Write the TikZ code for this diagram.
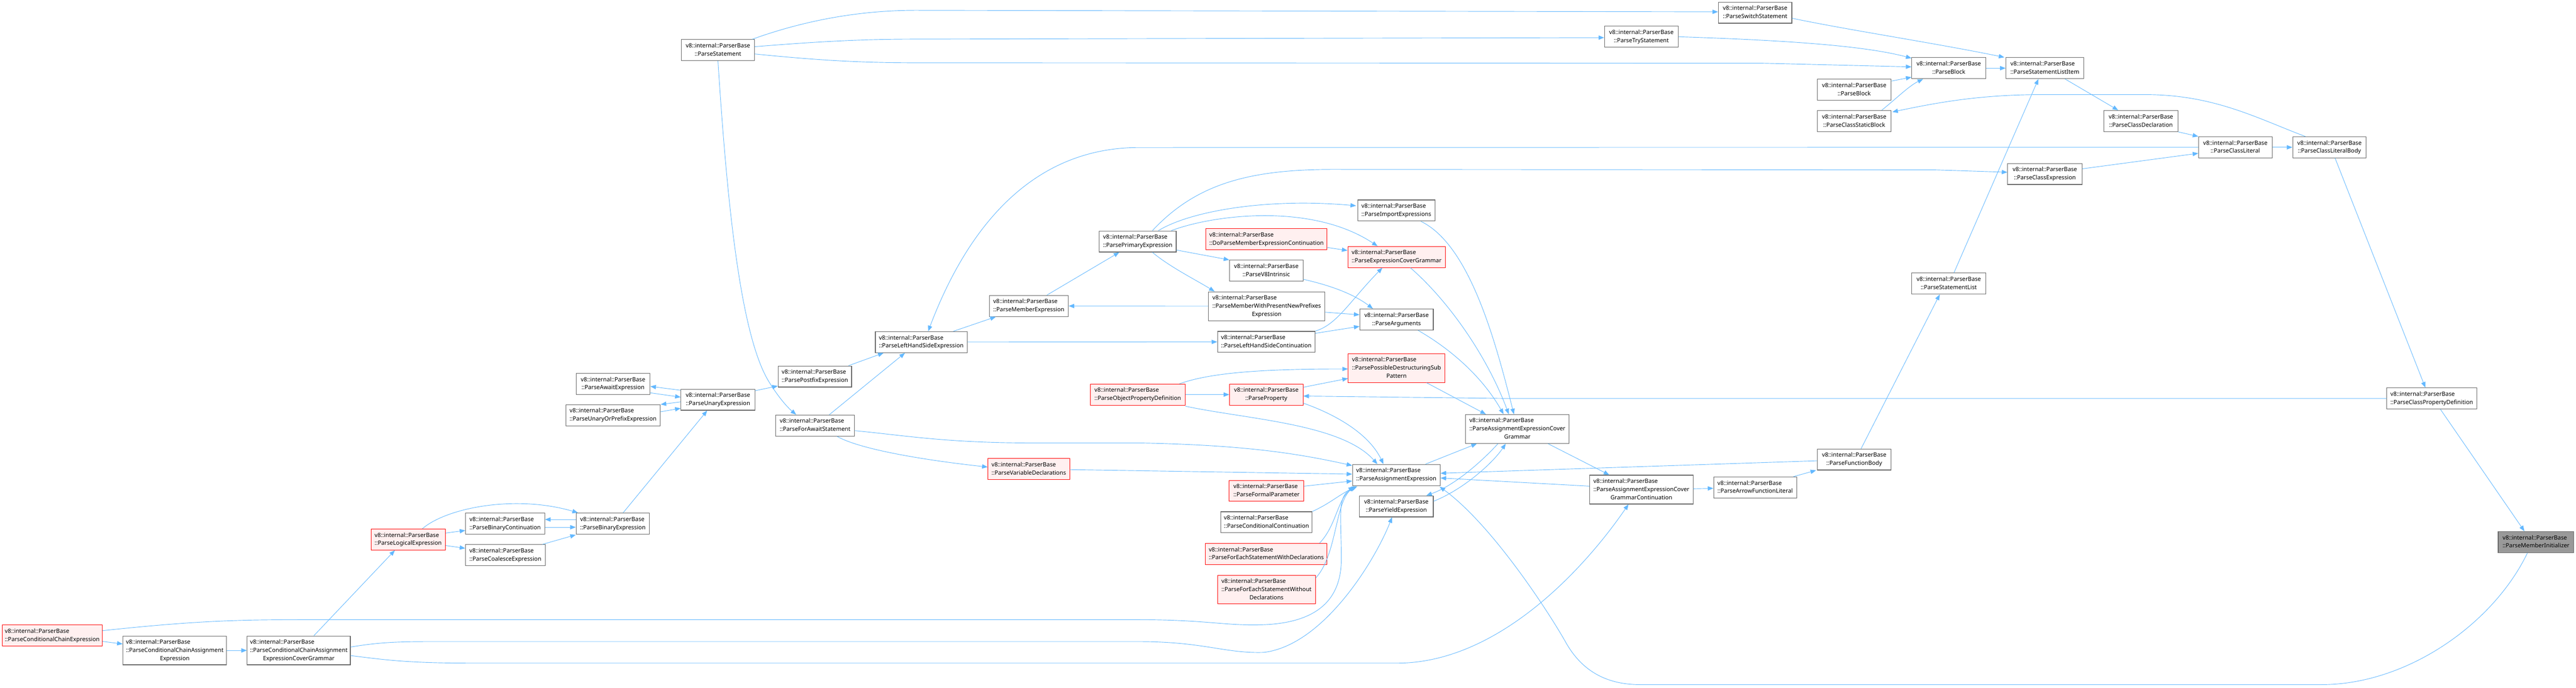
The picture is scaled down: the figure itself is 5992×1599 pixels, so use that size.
\documentclass[tikz,border=0pt]{standalone}
\usepackage{fontspec}
\setmainfont{Noto Sans}
\usepackage{tikz}
\usetikzlibrary{arrows.meta,calc}
\definecolor{callblue}{HTML}{63B8FF}
\definecolor{boxgray}{HTML}{666666}
\definecolor{redfill}{HTML}{FFF0F0}
\definecolor{rootfill}{HTML}{999999}
\newcommand{\fnfont}{\fontsize{13.5}{19}\selectfont}
\newcommand{\fnii}[1]{\begin{tabular}{@{}c@{}}\multicolumn{1}{@{}l@{}}{v8::internal::ParserBase}\\#1\end{tabular}}
\newcommand{\fniii}[2]{\begin{tabular}{@{}c@{}}\multicolumn{1}{@{}l@{}}{v8::internal::ParserBase}\\\multicolumn{1}{@{}l@{}}{#1}\\#2\end{tabular}}
\begin{document}
\begin{tikzpicture}[x=1pt,y=-1pt,
fn/.style={draw=boxgray,line width=1.4pt,fill=white,inner xsep=3pt,inner ysep=0pt,minimum height=49pt,font=\fnfont},
fnred/.style={fn,draw=red,line width=1.2pt,fill=redfill},
fnroot/.style={fn,fill=rootfill},
tall/.style={minimum height=67pt},
call/.style={draw=callblue,line width=1.1pt,-{Triangle[length=13pt,width=10pt]}}]
\useasboundingbox(0,0)rectangle(5992,1599);
\node[fnred,minimum width=233pt](pcce)at(121.5,1477.5){\fnii{::ParseConditionalChainExpression}};
\node[fn,tall,minimum width=241pt](ccae)at(406.5,1512.5){\fniii{::ParseConditionalChainAssignment}{Expression}};
\node[fn,tall,minimum width=240pt](ccaecg)at(695,1512.5){\fniii{::ParseConditionalChainAssignment}{ExpressionCoverGrammar}};
\node[fnred,minimum width=173pt](ple)at(949.5,1254.5){\fnii{::ParseLogicalExpression}};
\node[fn,minimum width=184pt](pbc)at(1175,1217.5){\fnii{::ParseBinaryContinuation}};
\node[fn,minimum width=185pt](pcoal)at(1175.5,1291){\fnii{::ParseCoalesceExpression}};
\node[fn,minimum width=171pt](pbe)at(1425.5,1217.5){\fnii{::ParseBinaryExpression}};
\node[fn,minimum width=172pt](pawe)at(1426,892.5){\fnii{::ParseAwaitExpression}};
\node[fn,minimum width=220pt](puope)at(1426,965.5){\fnii{::ParseUnaryOrPrefixExpression}};
\node[fn,minimum width=172pt](pue)at(1670,929.5){\fnii{::ParseUnaryExpression}};
\node[fn,minimum width=170pt](pst)at(1670,116.5){\fnii{::ParseStatement}};
\node[fn,minimum width=171pt](ppfe)at(1895.5,875.5){\fnii{::ParsePostfixExpression}};
\node[fn,minimum width=184pt](pfas)at(1896,989.5){\fnii{::ParseForAwaitStatement}};
\node[fn,minimum width=214pt](plhs)at(2143,795.5){\fnii{::ParseLeftHandSideExpression}};
\node[fnred,minimum width=190pt](pvd)at(2393,1091){\fnii{::ParseVariableDeclarations}};
\node[fn,minimum width=184pt](pme)at(2393,711.5){\fnii{::ParseMemberExpression}};
\node[fn,minimum width=179pt](ppe)at(2646.5,561.5){\fnii{::ParsePrimaryExpression}};
\node[fnred,minimum width=221pt](popd)at(2646.5,917.5){\fnii{::ParseObjectPropertyDefinition}};
\node[fnred,minimum width=282pt](dpmec)at(2946,556.5){\fnii{::DoParseMemberExpressionContinuation}};
\node[fn,minimum width=171pt](pv8)at(2945.5,629.5){\fnii{::ParseV8Intrinsic}};
\node[fn,tall,minimum width=271pt](pmwpnp)at(2946.5,712){\fniii{::ParseMemberWithPresentNewPrefixes}{Expression}};
\node[fn,minimum width=227pt](plhsc)at(2945.5,795){\fnii{::ParseLeftHandSideContinuation}};
\node[fnred,minimum width=171pt](pprop)at(2945.5,917.5){\fnii{::ParseProperty}};
\node[fnred,minimum width=174pt](pfp)at(2946,1141.5){\fnii{::ParseFormalParameter}};
\node[fn,minimum width=212pt](pcc)at(2946,1214.5){\fnii{::ParseConditionalContinuation}};
\node[fnred,minimum width=283pt](pfeswd)at(2945.5,1288){\fnii{::ParseForEachStatementWithDeclarations}};
\node[fnred,tall,minimum width=228pt](pfeswod)at(2946,1371){\fniii{::ParseForEachStatementWithout}{Declarations}};
\node[fn,minimum width=180pt](pie)at(3248,489.5){\fnii{::ParseImportExpressions}};
\node[fnred,minimum width=227pt](pecg)at(3248.5,597.5){\fnii{::ParseExpressionCoverGrammar}};
\node[fn,minimum width=171pt](parg)at(3248.5,743){\fnii{::ParseArguments}};
\node[fnred,tall,minimum width=225pt](ppdsp)at(3248.5,856){\fniii{::ParsePossibleDestructuringSub}{Pattern}};
\node[fn,minimum width=204pt](pae)at(3248,1104.5){\fnii{::ParseAssignmentExpression}};
\node[fn,minimum width=172pt](pye)at(3248,1177.5){\fnii{::ParseYieldExpression}};
\node[fn,tall,minimum width=241pt](paecg)at(3529.5,997.5){\fniii{::ParseAssignmentExpressionCover}{Grammar}};
\node[fn,tall,minimum width=240pt](paecgc)at(3818,1138.5){\fniii{::ParseAssignmentExpressionCover}{GrammarContinuation}};
\node[fn,minimum width=193pt](pafl)at(4082.5,1133.5){\fnii{::ParseArrowFunctionLiteral}};
\node[fn,minimum width=172pt](pfb)at(4313,1068.5){\fnii{::ParseFunctionBody}};
\node[fn,minimum width=172pt](pts)at(3818,85.5){\fnii{::ParseTryStatement}};
\node[fn,minimum width=171pt](pss)at(4082.5,29.5){\fnii{::ParseSwitchStatement}};
\node[fn,minimum width=172pt](pb2)at(4313,208.5){\fnii{::ParseBlock}};
\node[fn,minimum width=172pt](pcsb)at(4313,281.5){\fnii{::ParseClassStaticBlock}};
\node[fn,minimum width=172pt](pb)at(4533,158.5){\fnii{::ParseBlock}};
\node[fn,minimum width=172pt](psl)at(4533,659.5){\fnii{::ParseStatementList}};
\node[fn,minimum width=181pt](psli)at(4756.5,158.5){\fnii{::ParseStatementListItem}};
\node[fn,minimum width=173pt](pcex)at(4756.5,404.5){\fnii{::ParseClassExpression}};
\node[fn,minimum width=172pt](pcd)at(4980,281.5){\fnii{::ParseClassDeclaration}};
\node[fn,minimum width=171pt](pcl)at(5199.5,342.5){\fnii{::ParseClassLiteral}};
\node[fn,minimum width=171pt](pclb)at(5418.5,342.5){\fnii{::ParseClassLiteralBody}};
\node[fn,minimum width=209pt](pcpd)at(5656.5,926.5){\fnii{::ParseClassPropertyDefinition}};
\node[fnroot,minimum width=176pt](pmi)at(5899,1260.5){\fnii{::ParseMemberInitializer}};
\draw[call]($(pcce.east)+(0,14)$)--($(ccae.west)+(0,-15)$);
\draw[call](ccae)--(ccaecg);
\draw[call]($(ccaecg.north)+(35,0)$)--($(ple.south)+(-31,0)$);
\draw[call]($(pcce.east)+(0,-11)$)..controls(450,1444)and(550,1441)..(700,1441)--(2650,1441)..controls(2800,1441)and(2850,1455)..(2930,1453)..controls(3080,1450)and(3120,1380)..(3120,1300)..controls(3120,1200)and(3110,1160)..($(pae.south west)+(4,1)$);
\draw[call]($(ccaecg.east)+(0,-8)$)..controls(880,1494)and(920,1492)..(1000,1492)--(2650,1492)..controls(2800,1492)and(2850,1520)..(2940,1517)..controls(3080,1500)and(3200,1300)..($(pye.south)+(-10,0)$);
\draw[call]($(ccaecg.east)+(0,12)$)..controls(900,1535)and(950,1542)..(1100,1542)--(3250,1542)..controls(3480,1542)and(3680,1330)..($(paecgc.south)+(-30,0)$);
\draw[call]($(ple.east)+(0,-15)$)--($(pbc.west)+(0,16)$);
\draw[call]($(ple.east)+(0,14)$)--($(pcoal.west)+(0,-16)$);
\draw[call]($(ple.north)+(33,0)$)..controls(1040,1180)and(1200,1150)..($(pbe.north west)+(5,0)$);
\draw[call]($(pbe.west)+(0,-9.5)$)--($(pbc.east)+(0,-9.5)$);
\draw[call]($(pbc.east)+(0,8.5)$)--($(pbe.west)+(0,8.5)$);
\draw[call]($(pcoal.north east)+(-7,0)$)--($(pbe.south west)+(0,1)$);
\draw[call]($(pbe.north)+(24,0)$)--($(pue.south)+(-25,0)$);
\draw[call]($(pue.west)+(0,-22)$)--($(pawe.east)+(0,6)$);
\draw[call]($(pawe.east)+(0,21)$)--($(pue.west)+(0,-6)$);
\draw[call]($(pue.west)+(0,5)$)--($(puope.east)+(0,-25)$);
\draw[call]($(puope.east)+(0,-8)$)--($(pue.west)+(0,20)$);
\draw[call]($(pue.east)+(0,-21)$)--($(ppfe.west)+(0,22)$);
\draw[call](pst.south)..controls(1690,450)and(1720,780)..(1790,890)..controls(1815,930)and(1835,950)..($(pfas.north)+(-44,0)$);
\draw[call]($(pst.north east)+(-6,0)$)..controls(1850,55)and(1980,24)..(2130,24)--($(pss.west)+(0,-2)$);
\draw[call]($(pst.east)+(0,-8)$)..controls(1900,97)and(2000,91)..(2130,91)--($(pts.west)+(0,2)$);
\draw[call]($(pst.east)+(0,9)$)..controls(1900,140)and(2000,146)..(2130,146)--(4100,147)--($(pb.west)+(0,-3)$);
\draw[call](pts.east)..controls(4200,95)and(4350,110)..($(pb.north west)+(0,2)$);
\draw[call]($(pss.east)+(0,13)$)..controls(4300,70)and(4500,100)..($(psli.north west)+(-3,0)$);
\draw[call](pb)--(psli);
\draw[call]($(pb2.east)+(0,-20)$)--($(pb.west)+(0,21)$);
\draw[call]($(pcsb.north)+(64,0)$)..controls(4410,230)and(4440,200)..($(pb.south west)+(27,0)$);
\draw[call]($(psl.north)+(12,0)$)--($(psli.south)+(-15,0)$);
\draw[call]($(pclb.north west)+(30,0)$)..controls(5250,275)and(5150,220)..(4990,220)--(4750,220)..controls(4600,220)and(4500,240)..($(pcsb.north east)+(2,4)$);
\draw[call]($(pfb.north)+(16,0)$)--($(psl.south)+(-21,0)$);
\draw[call]($(psli.south)+(47,0)$)--($(pcd.north)+(-53,0)$);
\draw[call](pcd.south east)--(pcl.north west);
\draw[call]($(pcex.east)+(0,-12)$)--($(pcl.west)+(0,14)$);
\draw[call](pcl)--(pclb);
\draw[call]($(pclb.south)+(13,0)$)--($(pcpd.north)+(-15,0)$);
\draw[call]($(pcpd.south)+(20,0)$)--($(pmi.north)+(-27,0)$);
\draw[call]($(pmi.south)+(-20,0)$)..controls(5800,1450)and(5600,1592)..(5400,1592)--(3815,1592)..controls(3720,1592)and(3670,1545)..(3640,1490)..controls(3600,1420)and(3470,1220)..($(pae.south east)+(-2,2)$);
\draw[call](pcpd.west)--(3500,926.5)--($(pprop.east)+(0,3.5)$);
\draw[call](pcl.west)--(2650,343)..controls(2400,343)and(2250,530)..($(plhs.north)+(16,0)$);
\draw[call]($(ppfe.north east)+(-8,0)$)--($(plhs.south west)+(20,0)$);
\draw[call]($(pfas.north)+(33,0)$)--($(plhs.south)+(-38,0)$);
\draw[call]($(plhs.north east)+(-33,0)$)--($(pme.south west)+(16,0)$);
\draw[call](plhs)--(plhsc);
\draw[call]($(pme.north)+(42,0)$)--($(ppe.south)+(-43,0)$);
\draw[call](pmwpnp)--(pme);
\draw[call]($(ppe.east)+(0,20)$)--(pv8.north west);
\draw[call]($(ppe.south)+(34,0)$)..controls(2720,620)and(2780,650)..($(pmwpnp.north west)+(15,0)$);
\draw[call]($(ppe.north)+(48,0)$)..controls(2770,490)and(2950,460)..($(pie.west)+(-3,-11)$);
\draw[call]($(ppe.north)+(78,0)$)..controls(2820,500)and(3050,470)..($(pecg.north west)+(70,0)$);
\draw[call]($(ppe.north)+(34,0)$)..controls(2780,430)and(2900,394)..(3100,394)--(4500,395)--($(pcex.west)+(0,-4)$);
\draw[call]($(dpmec.east)+(0,19)$)--($(pecg.west)+(0,-15)$);
\draw[call]($(pv8.east)+(0,20)$)..controls(3100,665)and(3150,685)..($(parg.north)+(-55,0)$);
\draw[call]($(pmwpnp.east)+(0,14)$)--($(parg.west)+(0,-11)$);
\draw[call]($(plhsc.east)+(0,-20)$)--($(parg.west)+(0,16)$);
\draw[call](plhsc.north east)..controls(3110,755)and(3140,700)..($(pecg.south)+(-33,0)$);
\draw[call](popd)--(pprop);
\draw[call]($(popd.north east)+(-14,0)$)..controls(2820,865)and(2950,858)..($(ppdsp.west)+(0,2)$);
\draw[call]($(pprop.east)+(0,-17)$)--($(ppdsp.west)+(0,24)$);
\draw[call]($(pprop.east)+(0,20)$)..controls(3110,965)and(3185,1010)..($(pae.north)+(-30,0)$);
\draw[call]($(popd.south east)+(0,2)$)..controls(2900,975)and(3120,985)..($(pae.north)+(-44,0)$);
\draw[call]($(pfas.east)+(0,12)$)..controls(2100,1012)and(2200,1030)..(2400,1030)--(2650,1030)..controls(2900,1035)and(3020,1055)..($(pae.west)+(0,-22)$);
\draw[call]($(pfas.south)+(51,0)$)..controls(2000,1045)and(2150,1070)..($(pvd.west)+(0,-5)$);
\draw[call]($(pvd.east)+(0,1)$)--($(pae.west)+(0,-2)$);
\draw[call]($(pfp.east)+(0,-11)$)--($(pae.west)+(0,14)$);
\draw[call](pcc.north east)..controls(3095,1170)and(3115,1150)..($(pae.south west)+(12,1)$);
\draw[call]($(pfeswd.north)+(124,0)$)..controls(3110,1220)and(3110,1160)..($(pae.south west)+(8,1)$);
\draw[call]($(pfeswod.north east)+(0,7)$)..controls(3110,1290)and(3105,1170)..($(pae.south west)+(6,1)$);
\draw[call]($(pae.north east)+(-35,0)$)--($(paecg.south west)+(27,0)$);
\draw[call]($(paecg.south)+(-45,0)$)..controls(3440,1080)and(3380,1130)..($(pye.north east)+(-17,0)$);
\draw[call]($(pye.east)+(0,-12)$)..controls(3400,1140)and(3470,1080)..($(paecg.south)+(-27,0)$);
\draw[call]($(pfb.west)+(0,3)$)--($(pae.east)+(0,-4)$);
\draw[call]($(paecgc.west)+(0,-8)$)--($(pae.east)+(0,7)$);
\draw[call]($(paecg.south east)+(-50,0)$)--($(paecgc.north west)+(46,0)$);
\draw[call]($(paecgc.east)+(0,-2)$)--($(pafl.west)+(0,2)$);
\draw[call]($(pafl.north east)+(-8,0)$)--($(pfb.south west)+(-2,0)$);
\draw[call]($(pie.south)+(57,0)$)..controls(3420,570)and(3480,800)..($(paecg.north)+(-8,0)$);
\draw[call]($(pecg.south)+(32,0)$)..controls(3370,700)and(3460,830)..($(paecg.north)+(-20,0)$);
\draw[call]($(parg.south)+(50,0)$)..controls(3380,815)and(3450,880)..($(paecg.north)+(-32,0)$);
\draw[call]($(ppdsp.south)+(70,0)$)--($(paecg.north west)+(48,0)$);
\end{tikzpicture}
\end{document}
